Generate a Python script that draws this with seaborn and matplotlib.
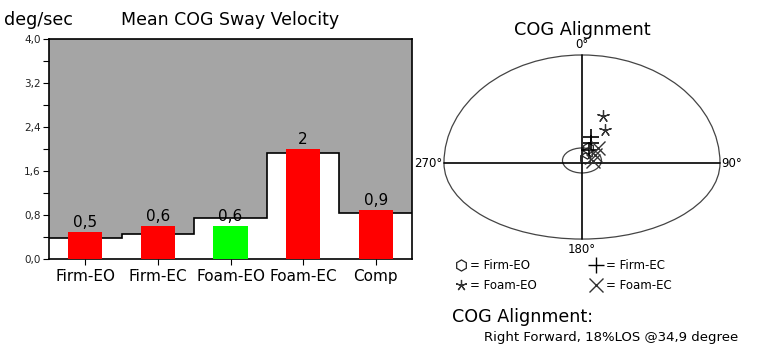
import numpy as np
import pandas as pd
import seaborn as sns
import matplotlib.pyplot as plt
from matplotlib.patches import Arc, Ellipse
from matplotlib.lines import Line2D

# bar chart data
conditions = ['Firm-EO', 'Firm-EC', 'Foam-EO', 'Foam-EC', 'Comp']
velocity = [0.5, 0.6, 0.6, 2.0, 0.9]
value_labels = ['0,5', '0,6', '0,6', '2', '0,9']
norm_limit = [0.38, 0.45, 0.74, 1.92, 0.83]
bar_colors = ['#ff0000', '#ff0000', '#00ff00', '#ff0000', '#ff0000']

# COG alignment points (lateral, forward)
firm_eo_x = [0.35, 0.29, 0.17]
firm_eo_y = [1.11, 0.74, 0.37]
firm_ec_x = [0.52, 0.52, 0.41]
firm_ec_y = [1.93, 1.48, 0.96]
foam_eo_x = [1.20, 1.35]
foam_eo_y = [3.50, 2.44]
foam_ec_x = [0.93, 0.75, 0.64]
foam_ec_y = [1.11, 0.59, 0.15]

sns.set_style('white')
plt.rcParams['font.family'] = ['DejaVu Sans']
plt.rcParams['text.color'] = 'black'
plt.rcParams['xtick.color'] = 'black'
plt.rcParams['ytick.color'] = 'black'
plt.rcParams['axes.labelcolor'] = 'black'

fig = plt.figure(figsize=(7.71, 3.62), dpi=100)

# ---- left: Mean COG Sway Velocity ----
ax = fig.add_axes([49 / 771, 103 / 362, 363 / 771, 220 / 362])
ax.set_facecolor('#a5a5a5')
edges = np.arange(len(conditions) + 1) - 0.5
ax.stairs(norm_limit, edges, baseline=0, fill=True, color='white', zorder=1)
ax.stairs(norm_limit, edges, baseline=None, color='black', lw=1.2, zorder=2)

df = pd.DataFrame({'cond': conditions, 'vel': velocity})
sns.barplot(data=df, x='cond', y='vel', hue='cond', palette=bar_colors,
            legend=False, width=0.47, saturation=1, linewidth=0, edgecolor='none',
            ax=ax, zorder=3)
for i, (v, lab) in enumerate(zip(velocity, value_labels)):
    ax.text(i, v + 0.03, lab, ha='center', va='bottom', fontsize=11, color='black', zorder=5)

ax.set_xlim(-0.5, len(conditions) - 0.5)
ax.set_ylim(0, 4.0)
ax.set_yticks(np.arange(0, 4.01, 0.8))
ax.set_yticks(np.arange(0.4, 4.0, 0.8), minor=True)
ax.set_yticklabels([f'{t:.1f}'.replace('.', ',') for t in np.arange(0, 4.01, 0.8)],
                   fontsize=7.5, color='#222222')
ax.tick_params(axis='y', which='both', direction='out', length=4, width=0.8, left=True, pad=2)
ax.tick_params(axis='x', direction='out', length=4, width=0.8, bottom=True, labelsize=11,
               labelcolor='black', pad=3)
ax.set_xlabel('')
ax.set_ylabel('')
for s in ax.spines.values():
    s.set_color('black')
    s.set_linewidth(1.2)
    s.set_visible(True)

fig.text(4 / 771, 1 - 20 / 362, 'deg/sec', fontsize=12.6, va='center', ha='left')
fig.text(230.5 / 771, 1 - 20 / 362, 'Mean COG Sway Velocity', fontsize=12.5,
         va='center', ha='center')

# ---- right: COG Alignment ----
ax2 = fig.add_axes([430 / 771, 107 / 362, 305 / 771, 215 / 362])
ax2.set_xlim(-8.81, 8.87)
ax2.set_ylim(-6.81, 9.11)
ax2.axis('off')

ax2.add_patch(Arc((0, 0), 16, 16, theta1=0, theta2=180, color='#444444', lw=0.9))
ax2.add_patch(Arc((0, 0), 16, 11.26, theta1=180, theta2=360, color='#444444', lw=0.9))
ax2.plot([-8, 8], [0, 0], color='black', lw=1.2)
ax2.plot([0, 0], [-5.63, 8], color='black', lw=1.2)
ax2.add_patch(Ellipse((0, 0.19), 2.26, 1.85, fill=False, color='#444444', lw=0.9))

ax2.plot(firm_eo_x, firm_eo_y, 'h', ms=8, mfc='none', mec='#222222', mew=0.9, ls='none')
ax2.plot(firm_ec_x, firm_ec_y, '+', ms=11, mec='black', mew=1.2, ls='none')
ax2.plot(foam_eo_x, foam_eo_y, marker=(5, 2, 0), ms=9, mec='#333333', mew=0.9, ls='none')
ax2.plot(foam_ec_x, foam_ec_y, 'x', ms=10, mec='#333333', mew=1.0, ls='none')

ax2.text(0, 8.3, '0°', ha='center', va='bottom', fontsize=8.5)
ax2.text(0, -5.9, '180°', ha='center', va='top', fontsize=8.5)
ax2.text(-8.1, 0, '270°', ha='right', va='center', fontsize=8.5)
ax2.text(8.1, 0, '90°', ha='left', va='center', fontsize=8.5)

fig.text(582.5 / 771, 1 - 30 / 362, 'COG Alignment', fontsize=12.8, ha='center', va='center')

handles = [
    Line2D([], [], marker='h', ms=8, mfc='none', mec='#222222', mew=0.9, ls='none'),
    Line2D([], [], marker=(5, 2, 0), ms=8, mec='#333333', mew=0.9, ls='none'),
    Line2D([], [], marker='+', ms=11, mec='black', mew=1.0, ls='none'),
    Line2D([], [], marker='x', ms=10, mec='#333333', mew=1.0, ls='none'),
]
labels = ['= Firm-EO', '= Foam-EO', '= Firm-EC', '= Foam-EC']
fig.legend(handles, labels, ncol=2, frameon=False, fontsize=8.5,
           loc='upper left', bbox_to_anchor=(455 / 771, 1 - 259 / 362),
           handlelength=1.0, handletextpad=0.3, columnspacing=4.5, labelspacing=0.6,
           borderpad=0, borderaxespad=0)

fig.text(452 / 771, 1 - 317 / 362, 'COG Alignment:', fontsize=12.6, ha='left', va='center')
fig.text(484 / 771, 1 - 337 / 362, 'Right Forward, 18%LOS @34,9 degree', fontsize=9.5,
         ha='left', va='center')

fig.savefig('out.png', dpi=100, facecolor='white')
